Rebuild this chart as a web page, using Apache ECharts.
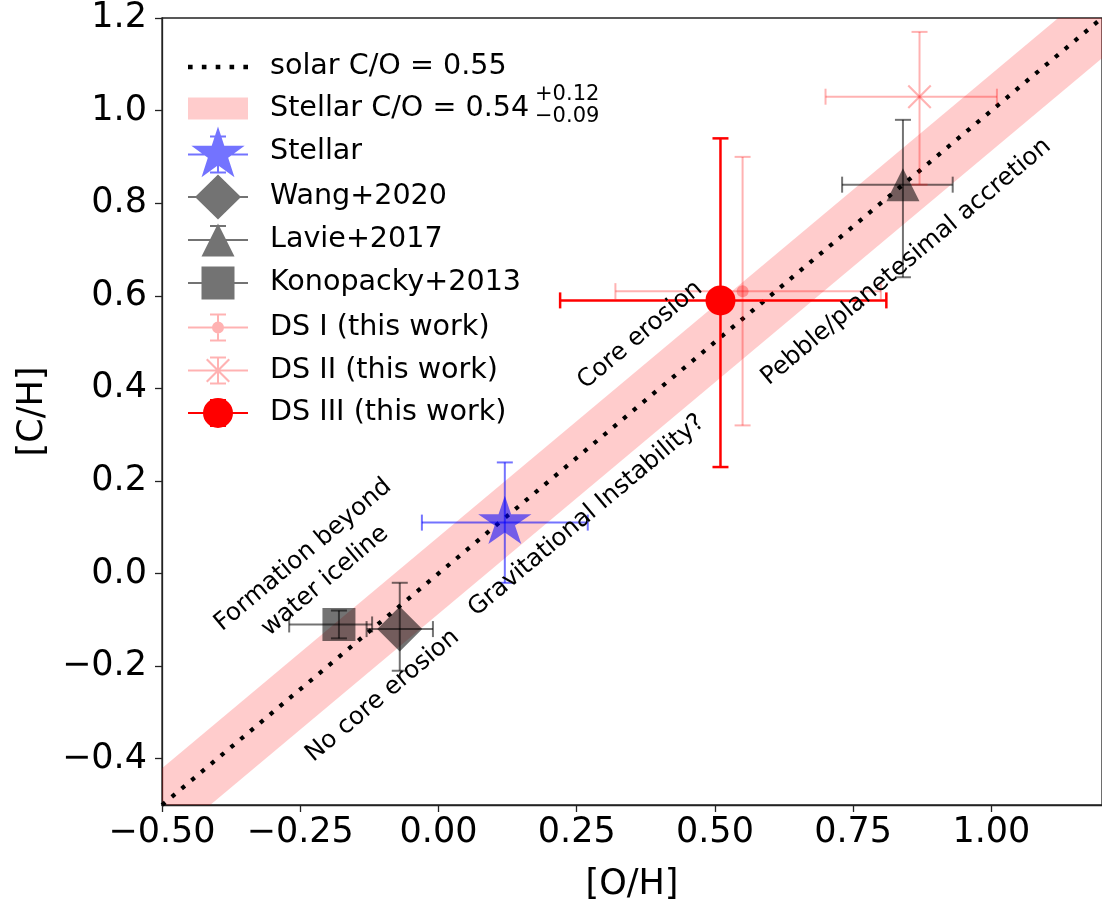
<!DOCTYPE html>
<html>
<head>
<meta charset="utf-8">
<script src="https://cdn.jsdelivr.net/npm/echarts@6/dist/echarts.min.js"></script>
<style>
html, body { margin: 0; padding: 0; background: #fff; }
#chart { width: 1102px; height: 909px; }
</style>
</head>
<body>
<div id="chart"></div>
<script>
// axis ticks
const xTicks = [-0.5, -0.25, 0, 0.25, 0.5, 0.75, 1.0];
const yTicks = [-0.4, -0.2, 0, 0.2, 0.4, 0.6, 0.8, 1.0, 1.2];

// C/O ratios
const solarCO = 0.55;
const stellarCO = 0.54, stellarCOup = 0.12, stellarCOdn = 0.09;
const lineOH = [-0.5, 1.2];

// measurements: [O/H] and [C/H] with error ranges
const names = ['Stellar', 'Wang+2020', 'Lavie+2017', 'Konopacky+2013',
  'DS I (this work)', 'DS II (this work)', 'DS III (this work)'];
const ohVal = [0.12, -0.07, 0.84, -0.18, 0.55, 0.87, 0.51];
const ohLo  = [-0.03, -0.13, 0.73, -0.27, 0.32, 0.70, 0.22];
const ohHi  = [0.27, -0.01, 0.93, -0.12, 0.80, 1.01, 0.81];
const chVal = [0.11, -0.12, 0.84, -0.11, 0.61, 1.03, 0.59];
const chLo  = [-0.02, -0.21, 0.64, -0.14, 0.32, 0.84, 0.23];
const chHi  = [0.24, -0.02, 0.98, -0.08, 0.90, 1.17, 0.94];

// text annotations
const annText = ['Formation beyond\nwater iceline', 'No core erosion', 'Gravitational Instability?',
  'Core erosion', 'Pebble/planetesimal accretion'];
const annOH = [-0.225, -0.101, 0.268, 0.365, 0.846];
const annCH = [0.012, -0.264, 0.125, 0.515, 0.673];

const FONT = '"DejaVu Sans", sans-serif';

// symbol paths
function rectP(x, y, w, h) { return `M${x},${y}h${w}v${h}h${-w}z`; }
function starP(cx, cy, R) {
  let d = '';
  for (let i = 0; i < 10; i++) {
    const r = i % 2 ? R * 0.382 : R;
    const a = -Math.PI / 2 + i * Math.PI / 5;
    d += (i ? 'L' : 'M') + (cx + r * Math.cos(a)).toFixed(2) + ',' + (cy + r * Math.sin(a)).toFixed(2);
  }
  return d + 'Z';
}
function circP(cx, cy, r) {
  return `M${cx - r},${cy}A${r},${r},0,1,1,${cx + r},${cy}A${r},${r},0,1,1,${cx - r},${cy}Z`;
}
function diamP(cx, cy, w, h) { return `M${cx},${cy - h}L${cx + w},${cy}L${cx},${cy + h}L${cx - w},${cy}Z`; }
function triP(cx, cy, w, h) { return `M${cx},${cy - h}L${cx + w},${cy + h}L${cx - w},${cy + h}Z`; }
function xP(cx, cy, a, t) {
  return `M${cx - a + t},${cy - a}L${cx + a},${cy + a - t}L${cx + a - t},${cy + a}L${cx - a},${cy - a + t}Z` +
    `M${cx + a},${cy - a + t}L${cx - a + t},${cy + a}L${cx - a},${cy + a - t}L${cx + a - t},${cy - a}Z`;
}
function errP(cy, vh) {
  return rectP(0, cy - 1, 60, 2) + rectP(29, cy - vh, 2, 2 * vh) +
    rectP(22, cy - vh - 1, 16, 2) + rectP(22, cy + vh - 1, 16, 2);
}
function dotsP() {
  let d = '';
  for (let i = 0; i < 5; i++) d += rectP(i * 13.5, 0, 4.5, 4.5);
  return d;
}

const styles = [
  { color: 'rgba(0,0,255,0.55)', lw: 2, symbol: 'path://' + starP(28, 28, 28), size: [53.3, 50.6], offset: [0, -2.7],
    icon: errP(30, 18) + starP(30, 30, 28), h: 51, cy: 152 },
  { color: 'rgba(0,0,0,0.55)', lw: 2, symbol: 'diamond', size: [45, 45], offset: [0, 0],
    icon: errP(30, 14) + diamP(30, 30, 23, 22.5), h: 45, cy: 197 },
  { color: 'rgba(0,0,0,0.55)', lw: 2, symbol: 'triangle', size: [33, 33], offset: [0, 0],
    icon: errP(30, 14) + triP(30, 30, 16.5, 16.5), h: 33, cy: 240 },
  { color: 'rgba(0,0,0,0.55)', lw: 2, symbol: 'rect', size: [33, 33], offset: [0, 0],
    icon: errP(30, 14) + rectP(13.5, 13.5, 33, 33), h: 33, cy: 283 },
  { color: 'rgba(255,0,0,0.3)', lw: 2, symbol: 'circle', size: [12, 12], offset: [0, 0],
    icon: errP(30, 13) + circP(30, 30, 6), h: 28, cy: 327 },
  { color: 'rgba(255,0,0,0.3)', lw: 2, symbol: 'path://' + xP(12, 12, 12, 1.5), size: [24, 24], offset: [0, 0],
    icon: errP(30, 13) + xP(30, 30, 12, 1.5), h: 28, cy: 370 },
  { color: '#ff0000', lw: 2.5, symbol: 'circle', size: [30, 30], offset: [0, 0],
    icon: errP(30, 13) + circP(30, 30, 15), h: 30, cy: 413 }
];

const bandLo = Math.log10((stellarCO - stellarCOdn) / solarCO);
const bandHi = Math.log10((stellarCO + stellarCOup) / solarCO);
const bandData = lineOH.map(x => [x, x + bandLo, x + bandHi]);
const solarData = lineOH.map(x => [x, x + Math.log10(solarCO / solarCO)]);

const series = [
  {
    name: 'Stellar C/O = 0.54',
    type: 'custom',
    itemStyle: { color: 'rgba(255,0,0,0.2)' },
    data: bandData,
    encode: { x: 0, y: [1, 2] },
    z: 1,
    renderItem: function (params, api) {
      if (params.dataIndex !== 0) return { type: 'group', children: [] };
      const a1 = api.coord([api.value(0, 0), api.value(1, 0)]);
      const a2 = api.coord([api.value(0, 1), api.value(1, 1)]);
      const b2 = api.coord([api.value(0, 1), api.value(2, 1)]);
      const b1 = api.coord([api.value(0, 0), api.value(2, 0)]);
      const cs = params.coordSys;
      return {
        type: 'polygon',
        shape: { points: [a1, a2, b2, b1] },
        style: { fill: 'rgba(255,0,0,0.2)' },
        clipPath: { type: 'rect', shape: { x: cs.x, y: cs.y, width: cs.width, height: cs.height } }
      };
    }
  },
  {
    name: 'solar C/O = 0.55',
    type: 'line',
    data: solarData,
    symbol: 'none',
    z: 2,
    itemStyle: { color: '#000' },
    lineStyle: { color: '#000', width: 4.2, type: [4.2, 8.6], cap: 'butt' }
  }
];

names.forEach((name, i) => {
  const st = styles[i];
  series.push({
    name: name + ' err',
    type: 'custom',
    z: 3,
    data: [[ohVal[i], chVal[i], ohLo[i], ohHi[i], chLo[i], chHi[i]]],
    encode: { x: [0, 2, 3], y: [1, 4, 5] },
    renderItem: function (params, api) {
      const x = api.value(0), y = api.value(1);
      const pL = api.coord([api.value(2), y]), pR = api.coord([api.value(3), y]);
      const pB = api.coord([x, api.value(4)]), pT = api.coord([x, api.value(5)]);
      const c = 8;
      const style = { stroke: st.color, lineWidth: st.lw, fill: null };
      const seg = (x1, y1, x2, y2) => ({ type: 'line', shape: { x1, y1, x2, y2 }, style });
      return {
        type: 'group',
        children: [
          seg(pL[0], pL[1], pR[0], pR[1]),
          seg(pB[0], pB[1], pT[0], pT[1]),
          seg(pL[0], pL[1] - c, pL[0], pL[1] + c),
          seg(pR[0], pR[1] - c, pR[0], pR[1] + c),
          seg(pT[0] - c, pT[1], pT[0] + c, pT[1]),
          seg(pB[0] - c, pB[1], pB[0] + c, pB[1])
        ]
      };
    }
  });
  series.push({
    name: name,
    type: 'scatter',
    z: 4,
    symbol: st.symbol,
    symbolSize: st.size,
    symbolOffset: st.offset,
    symbolKeepAspect: true,
    itemStyle: { color: st.color, opacity: 1 },
    data: [[ohVal[i], chVal[i]]]
  });
});

series.push({
  name: 'annotations',
  type: 'custom',
  z: 5,
  data: annOH.map((x, i) => [x, annCH[i]]),
  renderItem: function (params, api) {
    const p = api.coord([api.value(0), api.value(1)]);
    return {
      type: 'text',
      x: p[0], y: p[1],
      rotation: 40 * Math.PI / 180,
      style: {
        text: annText[params.dataIndex],
        font: '24.5px ' + FONT,
        fill: '#000',
        align: 'center',
        verticalAlign: 'middle',
        lineHeight: 34
      }
    };
  }
});

const legendRows = [
  { name: 'solar C/O = 0.55', cy: 55, h: 5, icon: 'path://' + dotsP(), color: '#000' },
  { name: 'Stellar C/O = 0.54', cy: 105, h: 22, icon: 'path://' + rectP(0, 0, 60, 22), color: 'rgba(255,0,0,0.2)' }
].concat(names.map((n, i) => ({
  name: n, cy: styles[i].cy, h: styles[i].h, icon: 'path://' + styles[i].icon, color: styles[i].color
})));

const legends = legendRows.map(r => ({
  data: [{ name: r.name, icon: r.icon, itemStyle: { color: r.color, borderWidth: 0 } }],
  left: 188,
  top: r.cy - r.h / 2,
  orient: 'vertical',
  itemWidth: 60,
  itemHeight: r.h,
  padding: 0,
  selectedMode: false,
  textStyle: { fontFamily: FONT, fontSize: 28.6, color: '#000', padding: [0, 0, 0, 17] }
}));

const chart = echarts.init(document.getElementById('chart'));
chart.setOption({
  animation: false,
  backgroundColor: '#fff',
  grid: { left: 162, top: 18, width: 941, height: 787, show: true, borderColor: '#222', borderWidth: 1.3 },
  legend: legends,
  xAxis: {
    type: 'value', min: -0.5, max: 1.2,
    name: '[O/H]', nameLocation: 'middle', nameGap: 62,
    nameTextStyle: { fontFamily: FONT, fontSize: 35, color: '#000' },
    splitLine: { show: false },
    axisLine: { onZero: false, lineStyle: { color: '#222', width: 1.3 } },
    axisTick: { length: 7, lineStyle: { color: '#222', width: 1.3 }, customValues: xTicks },
    axisLabel: {
      customValues: xTicks, margin: 10, fontFamily: FONT, fontSize: 35, color: '#000',
      formatter: v => (v < 0 ? '\u2212' : '') + Math.abs(v).toFixed(2)
    }
  },
  yAxis: {
    type: 'value', min: -0.5, max: 1.2,
    name: '[C/H]', nameLocation: 'middle', nameGap: 112, nameRotate: 90,
    nameTextStyle: { fontFamily: FONT, fontSize: 35, color: '#000' },
    splitLine: { show: false },
    axisLine: { onZero: false, lineStyle: { color: '#222', width: 1.3 } },
    axisTick: { length: 7, lineStyle: { color: '#222', width: 1.3 }, customValues: yTicks },
    axisLabel: {
      customValues: yTicks, margin: 15, fontFamily: FONT, fontSize: 35, color: '#000',
      formatter: v => (v < 0 ? '\u2212' : '') + Math.abs(v).toFixed(1)
    }
  },
  graphic: [
    { type: 'text', x: 535, y: 95, style: { text: '+0.12', font: '21px ' + FONT, fill: '#000', verticalAlign: 'middle' } },
    { type: 'text', x: 535, y: 117, style: { text: '\u22120.09', font: '21px ' + FONT, fill: '#000', verticalAlign: 'middle' } }
  ],
  series: series
});
</script>
</body>
</html>
